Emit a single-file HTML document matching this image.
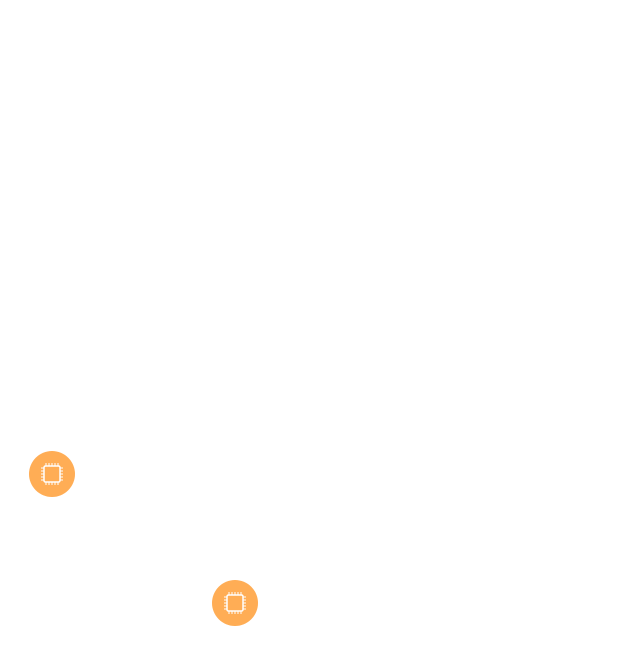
<!DOCTYPE html>
<html><head><style>html,body{margin:0;padding:0;background:#fff;width:617px;height:668px;overflow:hidden}</style></head>
<body>
<svg width="617" height="668" xmlns="http://www.w3.org/2000/svg">
<defs>
<g id="chip">
<circle cx="0" cy="0" r="23" fill="#FFAD55"/>
<rect x="-8" y="-8" width="16" height="16" rx="1.5" fill="none" stroke="#fff" stroke-width="1.5"/>
<g stroke="#fff" stroke-width="1">
<path d="M-6 -8v-3M-3 -8v-3M0 -8v-3M3 -8v-3M6 -8v-3"/>
<path d="M-6 8v3M-3 8v3M0 8v3M3 8v3M6 8v3"/>
<path d="M-8 -6h-3M-8 -3h-3M-8 0h-3M-8 3h-3M-8 6h-3"/>
<path d="M8 -6h3M8 -3h3M8 0h3M8 3h3M8 6h3"/>
</g>
</g>
</defs>
<use href="#chip" x="52" y="474"/>
<use href="#chip" x="235" y="603"/>
</svg>
</body></html>
